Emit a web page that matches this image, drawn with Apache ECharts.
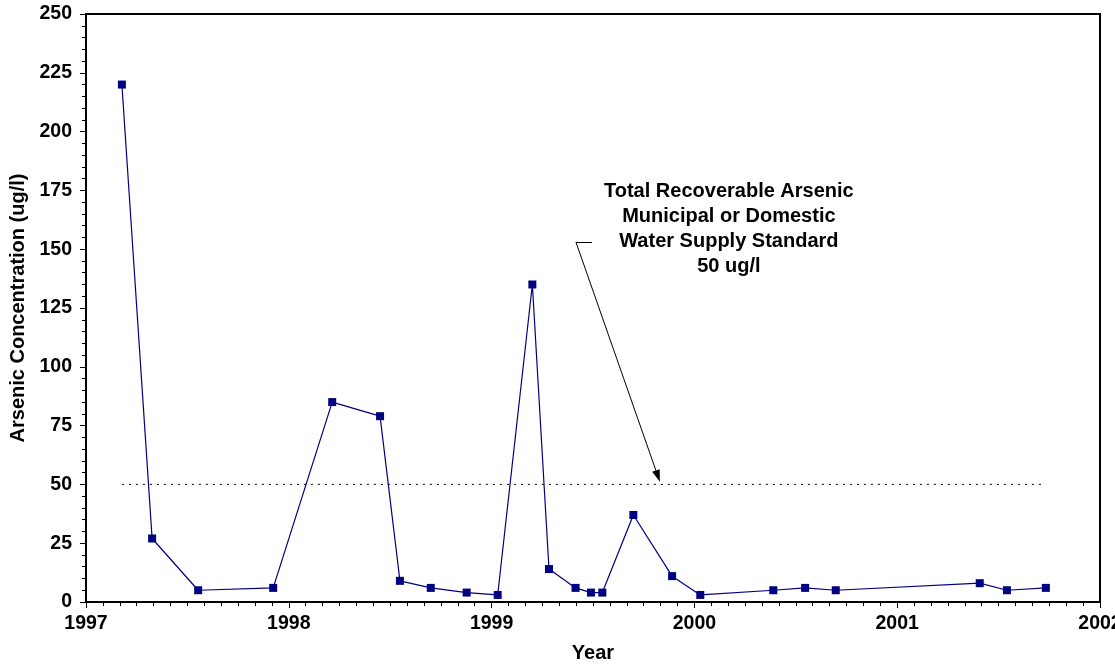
<!DOCTYPE html>
<html>
<head>
<meta charset="utf-8">
<title>Arsenic Concentration</title>
<script src="https://cdn.jsdelivr.net/npm/echarts@6/dist/echarts.min.js"></script>
<style>
  html, body { margin: 0; padding: 0; background: #fff; }
  #chart { width: 1115px; height: 664px; }
</style>
</head>
<body>
<div id="chart"></div>
<script>
  // sample dates as decimal years
  const sampleYears = [1997.177, 1997.326, 1997.553, 1997.923, 1998.214, 1998.450, 1998.548, 1998.700,
    1998.877, 1999.030, 1999.201, 1999.283, 1999.414, 1999.490, 1999.546, 1999.699, 1999.890, 2000.029,
    2000.389, 2000.546, 2000.697, 2001.407, 2001.541, 2001.733]
  const arsenic = [220, 27, 5, 6, 85, 79, 9, 6, 4, 3, 135, 14, 6, 4, 4, 37, 11, 3, 5, 6, 5, 8, 5, 6]

  const standardValue = 50
  const standardSpan = [sampleYears[0], sampleYears[sampleYears.length - 1]]
  const noteLines = ['Total Recoverable Arsenic', 'Municipal or Domestic', 'Water Supply Standard', '50 ug/l']
  // note anchor and arrow, in data units
  const notePos = [2000.17, 158.5]
  const arrowFrom = [1999.416, 153]
  const arrowKink = [1999.495, 153]
  const arrowTo = [1999.82, 53.5] // arrow head is centred here, its tip lands near 50

  const font = 'Liberation Sans, Arial, sans-serif'
  const chart = echarts.init(document.getElementById('chart'))

  chart.setOption({
    animation: false,
    backgroundColor: '#fff',
    grid: {
      left: 86,
      right: 15,
      top: 14,
      bottom: 62,
      containLabel: false,
      outerBoundsMode: 'none',
      show: true,
      borderColor: '#000',
      borderWidth: 2,
      backgroundColor: '#fff'
    },
    xAxis: {
      type: 'value',
      min: 1997,
      max: 2002,
      interval: 1,
      name: 'Year',
      nameLocation: 'middle',
      nameGap: 41,
      nameTextStyle: { fontFamily: font, fontWeight: 'bold', fontSize: 20, color: '#000' },
      axisLine: { lineStyle: { color: '#000', width: 2 } },
      axisTick: { length: 6, lineStyle: { color: '#000', width: 1 } },
      minorTick: { show: true, splitNumber: 12, length: 4, lineStyle: { color: '#000', width: 1 } },
      splitLine: { show: false },
      axisLabel: {
        margin: 12,
        fontFamily: font,
        fontWeight: 'bold',
        fontSize: 19.5,
        color: '#000',
        showMaxLabel: true,
        hideOverlap: false,
        formatter: v => String(v)
      }
    },
    yAxis: {
      type: 'value',
      min: 0,
      max: 250,
      interval: 25,
      name: 'Arsenic Concentration (ug/l)',
      nameLocation: 'middle',
      nameGap: 57,
      nameTextStyle: { fontFamily: font, fontWeight: 'bold', fontSize: 20, color: '#000' },
      axisLine: { show: true, lineStyle: { color: '#000', width: 2 } },
      axisTick: { show: true, length: 6, lineStyle: { color: '#000', width: 1 } },
      minorTick: { show: true, splitNumber: 5, length: 4, lineStyle: { color: '#000', width: 1 } },
      splitLine: { show: false },
      axisLabel: {
        margin: 14,
        fontFamily: font,
        fontWeight: 'bold',
        fontSize: 19.5,
        color: '#000'
      }
    },
    series: [
      {
        name: 'Arsenic',
        type: 'line',
        data: sampleYears.map((y, i) => [y, arsenic[i]]),
        symbol: 'rect',
        symbolSize: 8,
        showAllSymbol: true,
        itemStyle: { color: '#000080' },
        lineStyle: { color: '#000080', width: 1.2 },
        z: 5,
        markPoint: {
          symbol: 'rect',
          symbolSize: 0,
          silent: true,
          data: [{
            coord: notePos,
            label: {
              show: true,
              position: 'inside',
              formatter: noteLines.join('\n'),
              fontFamily: font,
              fontWeight: 'bold',
              fontSize: 20,
              lineHeight: 25,
              align: 'center',
              color: '#000'
            }
          }]
        }
      },
      {
        name: 'Standard',
        type: 'line',
        data: standardSpan.map(y => [y, standardValue]),
        symbol: 'none',
        lineStyle: { color: '#000', width: 1, type: [2, 5] },
        z: 3,
        markLine: {
          silent: true,
          symbol: ['none', 'none'],
          label: { show: false },
          lineStyle: { color: '#000', width: 1, type: 'solid' },
          data: [
            [{ coord: arrowKink }, { coord: arrowFrom }],
            [{ coord: arrowFrom, symbol: 'none' }, { coord: arrowTo, symbol: 'triangle', symbolSize: [8, 12] }]
          ]
        }
      }
    ]
  })
</script>
</body>
</html>
